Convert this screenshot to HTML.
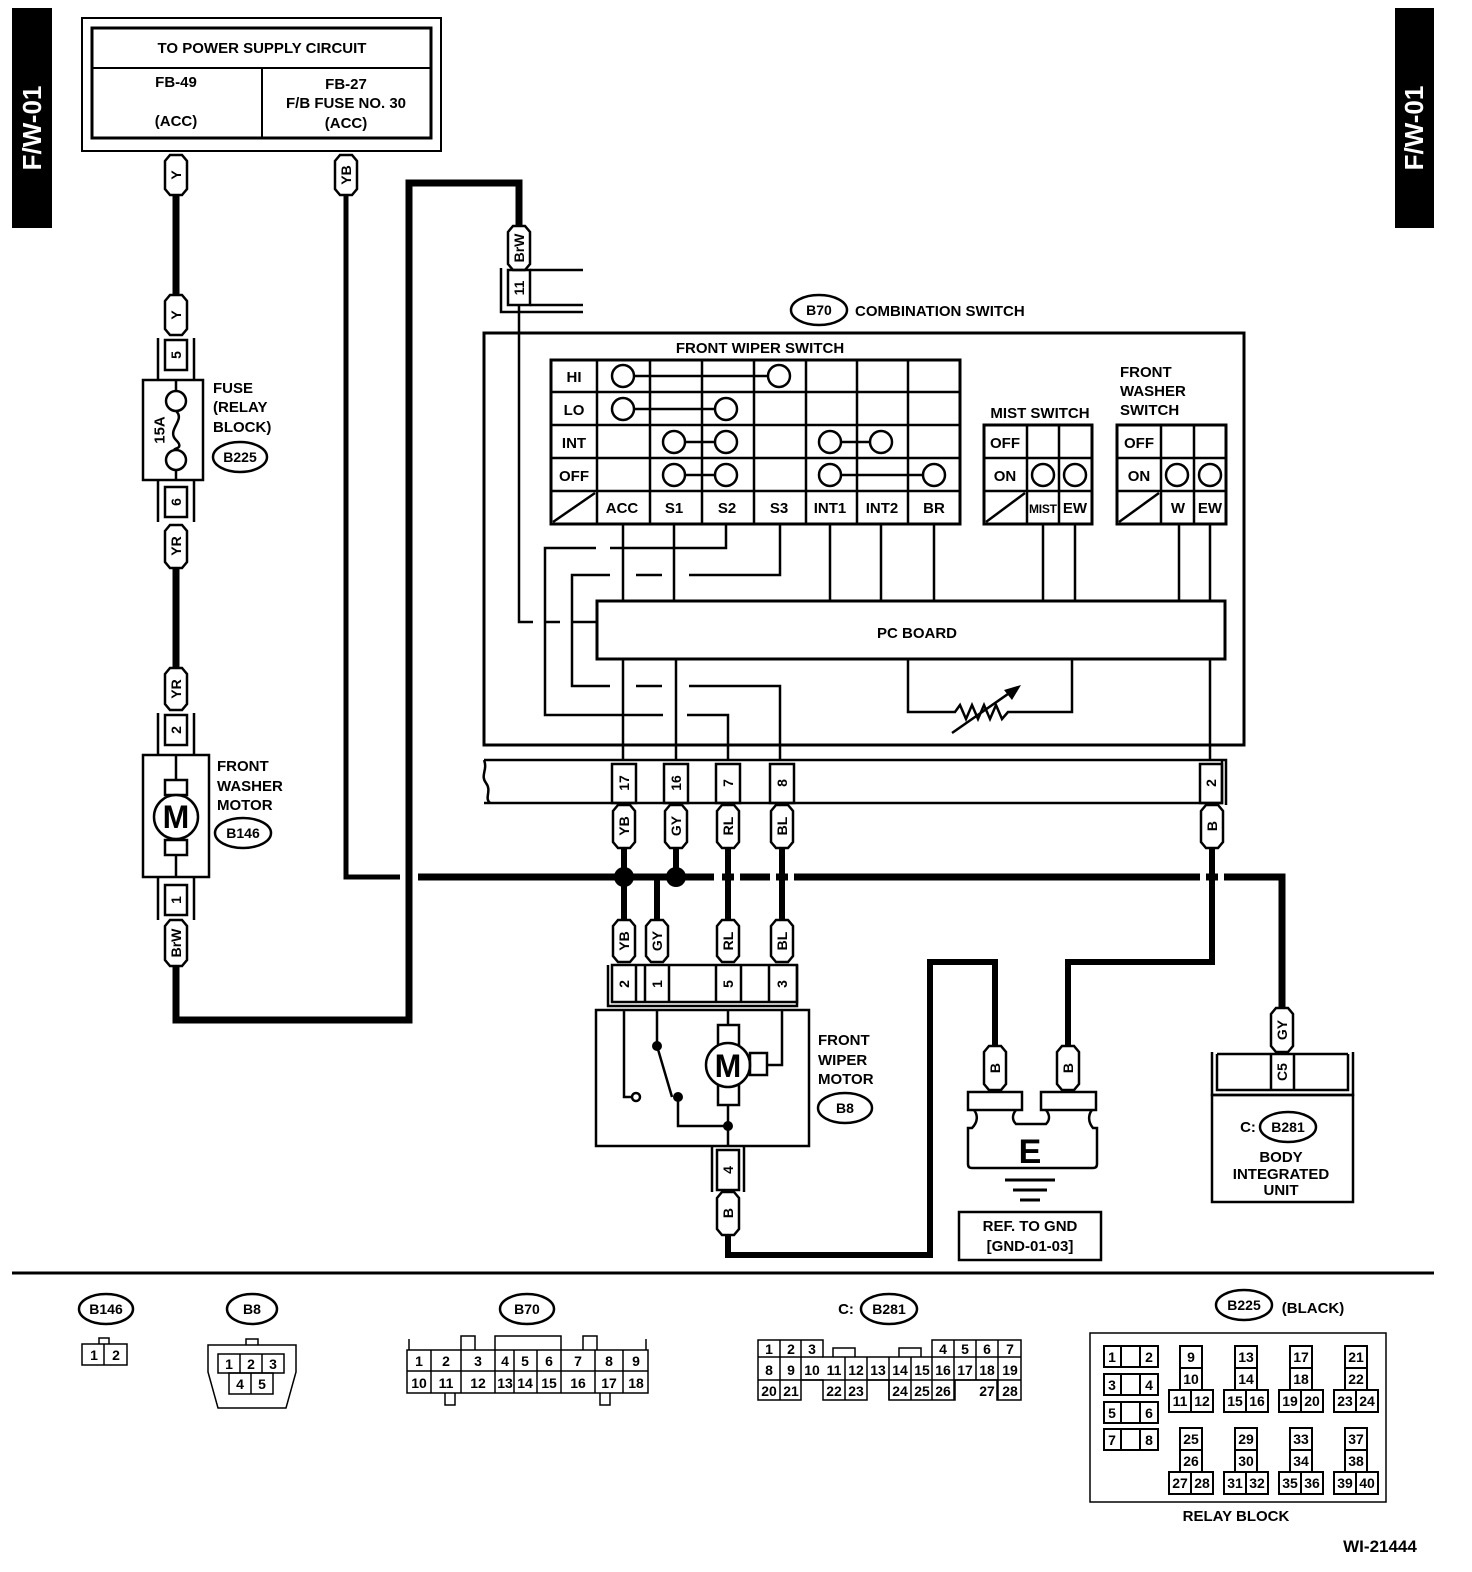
<!DOCTYPE html>
<html><head><meta charset="utf-8"><style>
html,body{margin:0;padding:0;background:#fff;}
svg{display:block;}
text{font-family:"Liberation Sans",Arial,sans-serif;font-weight:bold;fill:#000;}
</style></head><body>
<svg width="1472" height="1572" viewBox="0 0 1472 1572" xmlns="http://www.w3.org/2000/svg">
<rect width="1472" height="1572" fill="#fff"/>
<!-- side tabs -->
<rect x="12" y="8" width="40" height="220" fill="#000"/>
<text x="32" y="128" font-size="26" fill="#fff" style="fill:#fff" text-anchor="middle" dominant-baseline="central" transform="rotate(-90 32 128)">F/W-01</text>
<rect x="1395" y="8" width="39" height="220" fill="#000"/>
<text x="1414" y="128" font-size="26" style="fill:#fff" text-anchor="middle" dominant-baseline="central" transform="rotate(-90 1414 128)">F/W-01</text>

<g fill="none" stroke="#000">
<!-- top box -->
<rect x="82" y="18" width="359" height="133" stroke-width="2"/>
<rect x="92" y="28" width="339" height="110" stroke-width="3"/>
<line x1="92" y1="68" x2="431" y2="68" stroke-width="2"/>
<line x1="262" y1="68" x2="262" y2="138" stroke-width="2"/>

<!-- thick wires -->
<path d="M176 195V295" stroke-width="7"/>
<path d="M176 568V668" stroke-width="7"/>
<path d="M176 966V1020H409V183H519V226" stroke-width="7"/>
<path d="M346 195V877H400" stroke-width="5"/>
<path d="M418 877H1282V1008" stroke-width="7"/>
<path d="M624 848V920M728 848V920M782 848V920" stroke-width="6"/>
<path d="M676 848V877M657 920V877H676" stroke-width="6"/>
<path d="M1212 848V962H1068V1046" stroke-width="6"/>
<path d="M728 1235V1255H930V962H995V1046" stroke-width="6"/>
</g>
<!-- gaps on bus -->
<rect x="714" y="870" width="8" height="14" fill="#fff"/>
<rect x="734" y="870" width="6" height="14" fill="#fff"/>
<rect x="770" y="870" width="6" height="14" fill="#fff"/>
<rect x="788" y="870" width="6" height="14" fill="#fff"/>
<rect x="1200" y="870" width="6" height="14" fill="#fff"/>
<rect x="1218" y="870" width="6" height="14" fill="#fff"/>
<path d="M728 848V920M782 848V920M1212 848V962" stroke="#000" stroke-width="6" fill="none"/>
<circle cx="624" cy="877" r="10"/>
<circle cx="676" cy="877" r="10"/>

<g font-size="15">
<text x="262" y="53" text-anchor="middle">TO POWER SUPPLY CIRCUIT</text>
<text x="176" y="87" text-anchor="middle">FB-49</text>
<text x="176" y="126" text-anchor="middle">(ACC)</text>
<text x="346" y="89" text-anchor="middle">FB-27</text>
<text x="346" y="108" text-anchor="middle">F/B FUSE NO. 30</text>
<text x="346" y="128" text-anchor="middle">(ACC)</text>
</g>

<!-- wire labels -->
<g stroke="#000" stroke-width="2.5" fill="#fff">
<path d="M165 161L170 155H182L187 161V189L182 195H170L165 189Z"/>
<path d="M335 161L340 155H352L357 161V189L352 195H340L335 189Z"/>
<path d="M165 301L170 295H182L187 301V329L182 335H170L165 329Z"/>
<path d="M165 531L170 525H182L187 531V562L182 568H170L165 562Z"/>
<path d="M165 674L170 668H182L187 674V704L182 710H170L165 704Z"/>
<path d="M165 926L170 920H182L187 926V960L182 966H170L165 960Z"/>
<path d="M508 232L513 226H525L530 232V264L525 270H513L508 264Z"/>
<path d="M613 811L618 805H630L635 811V842L630 848H618L613 842Z"/>
<path d="M665 811L670 805H682L687 811V842L682 848H670L665 842Z"/>
<path d="M717 811L722 805H734L739 811V842L734 848H722L717 842Z"/>
<path d="M771 811L776 805H788L793 811V842L788 848H776L771 842Z"/>
<path d="M1201 811L1206 805H1218L1223 811V842L1218 848H1206L1201 842Z"/>
<path d="M613 926L618 920H630L635 926V956L630 962H618L613 956Z"/>
<path d="M646 926L651 920H663L668 926V956L663 962H651L646 956Z"/>
<path d="M717 926L722 920H734L739 926V956L734 962H722L717 956Z"/>
<path d="M771 926L776 920H788L793 926V956L788 962H776L771 956Z"/>
<path d="M717 1198L722 1192H734L739 1198V1229L734 1235H722L717 1229Z"/>
<path d="M984 1052L989 1046H1001L1006 1052V1084L1001 1090H989L984 1084Z"/>
<path d="M1057 1052L1062 1046H1074L1079 1052V1084L1074 1090H1062L1057 1084Z"/>
<path d="M1271 1014L1276 1008H1288L1293 1014V1046L1288 1052H1276L1271 1046Z"/>
</g>
<g font-size="14" text-anchor="middle" dominant-baseline="central">
<text x="176" y="175" transform="rotate(-90 176 175)">Y</text>
<text x="346" y="175" transform="rotate(-90 346 175)">YB</text>
<text x="176" y="315" transform="rotate(-90 176 315)">Y</text>
<text x="176" y="546" transform="rotate(-90 176 546)">YR</text>
<text x="176" y="689" transform="rotate(-90 176 689)">YR</text>
<text x="176" y="943" transform="rotate(-90 176 943)">BrW</text>
<text x="519" y="248" transform="rotate(-90 519 248)">BrW</text>
<text x="624" y="826" transform="rotate(-90 624 826)">YB</text>
<text x="676" y="826" transform="rotate(-90 676 826)">GY</text>
<text x="728" y="826" transform="rotate(-90 728 826)">RL</text>
<text x="782" y="826" transform="rotate(-90 782 826)">BL</text>
<text x="1212" y="826" transform="rotate(-90 1212 826)">B</text>
<text x="624" y="941" transform="rotate(-90 624 941)">YB</text>
<text x="657" y="941" transform="rotate(-90 657 941)">GY</text>
<text x="728" y="941" transform="rotate(-90 728 941)">RL</text>
<text x="782" y="941" transform="rotate(-90 782 941)">BL</text>
<text x="728" y="1213" transform="rotate(-90 728 1213)">B</text>
<text x="995" y="1068" transform="rotate(-90 995 1068)">B</text>
<text x="1068" y="1068" transform="rotate(-90 1068 1068)">B</text>
<text x="1282" y="1030" transform="rotate(-90 1282 1030)">GY</text>
</g>

<!-- left connectors & fuse & washer motor -->
<g fill="none" stroke="#000" stroke-width="2.5">
<rect x="165" y="340" width="22" height="30"/><path d="M158 338V380M194 338V380"/>
<rect x="143" y="380" width="60" height="100"/>
<path d="M176 380V391M176 470V480"/>
<circle cx="176" cy="401" r="10"/><circle cx="176" cy="460" r="10"/>
<path d="M176 411C186 420 166 430 176 440S170 448 176 450"/>
<rect x="165" y="487" width="22" height="30"/><path d="M158 480V522M194 480V522"/>
<rect x="165" y="715" width="22" height="30"/><path d="M158 713V755M194 713V755"/>
<rect x="143" y="755" width="66" height="122"/>
<path d="M176 755V780M176 855V877"/>
<rect x="165" y="780" width="22" height="15"/><rect x="165" y="840" width="22" height="15"/>
<circle cx="176" cy="817" r="22" fill="#fff"/>
<rect x="165" y="885" width="22" height="30"/><path d="M158 877V920M194 877V920"/>
<ellipse cx="240" cy="457" rx="27" ry="15"/>
<ellipse cx="243" cy="833" rx="28" ry="15"/>
</g>
<g font-size="14" text-anchor="middle" dominant-baseline="central">
<text x="176" y="355" transform="rotate(-90 176 355)">5</text>
<text x="176" y="502" transform="rotate(-90 176 502)">6</text>
<text x="176" y="730" transform="rotate(-90 176 730)">2</text>
<text x="176" y="900" transform="rotate(-90 176 900)">1</text>
<text x="160" y="430" font-size="15" transform="rotate(-90 160 430)">15A</text>
</g>
<text x="176" y="828" font-size="32" text-anchor="middle">M</text>
<g font-size="15">
<text x="213" y="393">FUSE</text>
<text x="213" y="412">(RELAY</text>
<text x="213" y="432">BLOCK)</text>
<text x="240" y="462" text-anchor="middle" font-size="14">B225</text>
<text x="217" y="771">FRONT</text>
<text x="217" y="791">WASHER</text>
<text x="217" y="810">MOTOR</text>
<text x="243" y="838" text-anchor="middle" font-size="14">B146</text>
</g>

<!-- B70 connector 11 (top) -->
<g fill="none" stroke="#000" stroke-width="2.5">
<rect x="508" y="270" width="22" height="35"/>
<path d="M530 270H583M530 305H583M501 268V312H583"/>
</g>
<text x="519" y="288" font-size="14" text-anchor="middle" dominant-baseline="central" transform="rotate(-90 519 288)">11</text>

<!-- combination switch -->
<ellipse cx="819" cy="310" rx="28" ry="15" fill="none" stroke="#000" stroke-width="2.5"/>
<text x="819" y="315" font-size="14" text-anchor="middle">B70</text>
<text x="855" y="316" font-size="15">COMBINATION SWITCH</text>
<rect x="484" y="333" width="760" height="412" fill="none" stroke="#000" stroke-width="3"/>
<text x="760" y="353" font-size="15" text-anchor="middle">FRONT WIPER SWITCH</text>
<g fill="none" stroke="#000" stroke-width="2.5">
<rect x="551" y="360" width="409" height="164" stroke-width="3"/>
<path d="M551 392H960M551 425H960M551 458H960M551 491H960"/>
<path d="M597 360V524M650 360V524M702 360V524M754 360V524M806 360V524M857 360V524M908 360V524"/>
<path d="M553 522L595 493"/>
<path d="M634 376H768M634 409H715M685 442H715M841 442H870M685 475H715M841 475H923" />
<circle cx="623" cy="376" r="11"/><circle cx="779" cy="376" r="11"/>
<circle cx="623" cy="409" r="11"/><circle cx="726" cy="409" r="11"/>
<circle cx="674" cy="442" r="11"/><circle cx="726" cy="442" r="11"/>
<circle cx="830" cy="442" r="11"/><circle cx="881" cy="442" r="11"/>
<circle cx="674" cy="475" r="11"/><circle cx="726" cy="475" r="11"/>
<circle cx="830" cy="475" r="11"/><circle cx="934" cy="475" r="11"/>
<!-- mist -->
<rect x="984" y="425" width="108" height="99" stroke-width="3"/>
<path d="M984 458H1092M984 491H1092M1027 425V524M1059 425V524M986 522L1025 493"/>
<circle cx="1043" cy="475" r="11"/><circle cx="1075" cy="475" r="11"/>
<!-- washer -->
<rect x="1117" y="425" width="109" height="99" stroke-width="3"/>
<path d="M1117 458H1226M1117 491H1226M1161 425V524M1194 425V524M1119 522L1159 493"/>
<circle cx="1177" cy="475" r="11"/><circle cx="1210" cy="475" r="11"/>
<!-- internal wiring -->
<path d="M623 524V601M674 524V601M830 524V601M881 524V601M934 524V601M1043 524V601M1075 524V601M1179 524V601M1210 524V601"/>
<path d="M726 524V548H610M596 548H545V715H610M596 715H663M687 715H728V760"/>
<path d="M780 524V575H689M662 575H636M610 575H572V686H610M636 686H662M689 686H780V760"/>
<path d="M519 305V622H533M545 622H560M572 622H597"/>
<path d="M623 659V760M676 659V760M1210 659V760"/>
<rect x="597" y="601" width="628" height="58" stroke-width="3"/>
<path d="M908 659V712H955L960 705L966 719L972 705L978 719L984 705L990 719L996 705L1002 719L1008 712H1072V659"/>
<path d="M952 733L1018 687"/>
</g>
<path d="M1021 685L1004 690L1012 700Z" fill="#000"/>
<text x="917" y="638" font-size="15" text-anchor="middle">PC BOARD</text>
<g font-size="15" text-anchor="middle">
<text x="574" y="382">HI</text><text x="574" y="415">LO</text><text x="574" y="448">INT</text><text x="574" y="481">OFF</text>
<text x="622" y="513">ACC</text><text x="674" y="513">S1</text><text x="727" y="513">S2</text><text x="779" y="513">S3</text>
<text x="830" y="513">INT1</text><text x="882" y="513">INT2</text><text x="934" y="513">BR</text>
<text x="1005" y="448">OFF</text><text x="1005" y="481">ON</text>
<text x="1043" y="513" font-size="12" textLength="28">MIST</text><text x="1075" y="513">EW</text>
<text x="1139" y="448">OFF</text><text x="1139" y="481">ON</text>
<text x="1178" y="513">W</text><text x="1210" y="513">EW</text>
<text x="1040" y="418">MIST SWITCH</text>
</g>
<g font-size="15"><text x="1120" y="377">FRONT</text><text x="1120" y="396">WASHER</text><text x="1120" y="415">SWITCH</text></g>

<!-- B70 connector strip -->
<g fill="none" stroke="#000" stroke-width="2.5">
<path d="M484 760H1226V805M484 803H1222V760M1226 760V805M1222 760"/>
<path d="M484 760C488 770 480 775 486 783S484 798 490 803" fill="#fff"/>
<rect x="612" y="764" width="24" height="39"/>
<rect x="664" y="764" width="24" height="39"/>
<rect x="716" y="764" width="24" height="39"/>
<rect x="770" y="764" width="24" height="39"/>
<rect x="1200" y="764" width="22" height="39"/>
</g>
<g font-size="14" text-anchor="middle" dominant-baseline="central">
<text x="624" y="783" transform="rotate(-90 624 783)">17</text>
<text x="676" y="783" transform="rotate(-90 676 783)">16</text>
<text x="728" y="783" transform="rotate(-90 728 783)">7</text>
<text x="782" y="783" transform="rotate(-90 782 783)">8</text>
<text x="1211" y="783" transform="rotate(-90 1211 783)">2</text>
</g>

<!-- wiper motor -->
<g fill="none" stroke="#000" stroke-width="2.5">
<path d="M608 965V1006H797V965"/>
<rect x="612" y="965" width="185" height="37"/>
<path d="M636 965V1002M669 965V1002M645 965V1002M716 965V1002M741 965V1002M769 965V1002"/>
<rect x="596" y="1010" width="213" height="136"/>
<path d="M624 1010V1097H632"/>
<circle cx="636" cy="1097" r="4"/>
<path d="M657 1010V1046L672 1097M678 1097V1126H728"/>
<path d="M728 1010V1025M728 1105V1146"/>
<rect x="718" y="1025" width="21" height="20"/><rect x="718" y="1085" width="21" height="20"/>
<circle cx="728" cy="1065" r="22" fill="#fff"/>
<path d="M782 1010V1065H767"/>
<rect x="750" y="1053" width="17" height="22"/>
<rect x="717" y="1150" width="22" height="40"/><path d="M712 1146V1192M744 1146V1192"/>
<ellipse cx="845" cy="1108" rx="27" ry="15"/>
</g>
<circle cx="657" cy="1046" r="5"/><circle cx="678" cy="1097" r="5"/><circle cx="728" cy="1126" r="5"/>
<text x="728" y="1077" font-size="32" text-anchor="middle">M</text>
<g font-size="14" text-anchor="middle" dominant-baseline="central">
<text x="624" y="984" transform="rotate(-90 624 984)">2</text>
<text x="657" y="984" transform="rotate(-90 657 984)">1</text>
<text x="728" y="984" transform="rotate(-90 728 984)">5</text>
<text x="782" y="984" transform="rotate(-90 782 984)">3</text>
<text x="728" y="1170" transform="rotate(-90 728 1170)">4</text>
</g>
<g font-size="15"><text x="818" y="1045">FRONT</text><text x="818" y="1065">WIPER</text><text x="818" y="1084">MOTOR</text>
<text x="845" y="1113" text-anchor="middle" font-size="14">B8</text></g>

<!-- ground -->
<g fill="none" stroke="#000" stroke-width="2.5">
<rect x="968" y="1092" width="54" height="18"/><rect x="1041" y="1092" width="55" height="18"/>
<path d="M974 1110C978 1115 978 1122 972 1128H968V1164Q968 1168 972 1168H1093Q1097 1168 1097 1164V1128H1093C1088 1122 1088 1115 1092 1110"/>
<path d="M1016 1110C1012 1115 1012 1120 1016 1124H1046C1050 1120 1050 1115 1046 1110"/>
<path d="M1005 1180H1055M1013 1190H1047M1020 1200H1040" stroke-width="3"/>
<rect x="959" y="1212" width="142" height="48"/>
</g>
<text x="1030" y="1163" font-size="34" text-anchor="middle">E</text>
<g font-size="15" text-anchor="middle"><text x="1030" y="1231">REF. TO GND</text><text x="1030" y="1251">[GND-01-03]</text></g>

<!-- B281 unit -->
<g fill="none" stroke="#000" stroke-width="2.5">
<path d="M1212 1052V1095H1353V1052M1217 1054V1090H1348V1054"/>
<path d="M1217 1054H1348M1271 1054V1090M1294 1054V1090"/>
<rect x="1212" y="1095" width="141" height="107"/>
<ellipse cx="1288" cy="1127" rx="28" ry="15"/>
</g>
<text x="1282" y="1072" font-size="14" text-anchor="middle" dominant-baseline="central" transform="rotate(-90 1282 1072)">C5</text>
<g font-size="15" text-anchor="middle">
<text x="1248" y="1132">C:</text><text x="1288" y="1132" font-size="14">B281</text>
<text x="1281" y="1162">BODY</text><text x="1281" y="1179">INTEGRATED</text><text x="1281" y="1195">UNIT</text>
</g>

<line x1="12" y1="1273" x2="1434" y2="1273" stroke="#000" stroke-width="3"/>

<!-- bottom connector views -->
<g fill="none" stroke="#000" stroke-width="2.5">
<ellipse cx="106" cy="1309" rx="27" ry="15"/>
<ellipse cx="252" cy="1309" rx="25" ry="15"/>
<ellipse cx="527" cy="1309" rx="27" ry="15"/>
<ellipse cx="889" cy="1309" rx="28" ry="15"/>
<ellipse cx="1244" cy="1305" rx="28" ry="15"/>
</g>
<g font-size="14" text-anchor="middle">
<text x="106" y="1314">B146</text><text x="252" y="1314">B8</text><text x="527" y="1314">B70</text>
<text x="846" y="1314" font-size="15">C:</text><text x="889" y="1314">B281</text>
<text x="1244" y="1310">B225</text><text x="1313" y="1313" font-size="15">(BLACK)</text>
</g>
<g fill="none" stroke="#000" stroke-width="1.5">
<!-- B146 -->
<rect x="82" y="1344" width="45" height="21"/><path d="M104 1344V1365M99 1344V1338H109V1344"/>
<!-- B8 -->
<path d="M208 1345H296V1372L286 1408H218L208 1372Z"/>
<path d="M246 1345V1339H258V1345"/>
<rect x="218" y="1354" width="66" height="19"/><path d="M240 1354V1373M262 1354V1373"/>
<rect x="229" y="1373" width="44" height="21"/><path d="M251 1373V1394"/>
<!-- B70 -->
<rect x="407" y="1350" width="241" height="43"/><path d="M407 1371H648"/>
<path d="M431 1350V1393M461 1350V1393M495 1350V1393M514 1350V1393M537 1350V1393M561 1350V1393M595 1350V1393M623 1350V1393"/>
<path d="M409 1350V1339M461 1350V1336H475V1350M495 1350V1336H561V1350M583 1350V1336H597V1350M646 1350V1339"/>
<path d="M445 1393V1405H455V1393M600 1393V1405H610V1393"/>
<!-- B281 -->
<path d="M758 1340H823V1357H932V1340H1021V1400H997V1380H955V1400H889V1380H867V1400H823V1380H801V1400H758Z"/>
<path d="M758 1357H823M932 1357H1021M758 1380H1021"/>
<path d="M780 1340V1400M801 1340V1380M845 1357V1400M867 1357V1380M889 1357V1400M911 1357V1400M932 1357V1400M954 1340V1400M976 1340V1380M998 1340V1400"/>
<path d="M833 1357V1348H855V1357M899 1357V1348H921V1357"/>
<!-- relay block -->
<rect x="1090" y="1333" width="296" height="169"/>
</g>
<g font-size="14" text-anchor="middle" font-weight="normal">
<text x="94" y="1360">1</text><text x="116" y="1360">2</text>
<text x="229" y="1369">1</text><text x="251" y="1369">2</text><text x="273" y="1369">3</text>
<text x="240" y="1389">4</text><text x="262" y="1389">5</text>
<text x="419" y="1366">1</text><text x="446" y="1366">2</text><text x="478" y="1366">3</text><text x="505" y="1366">4</text><text x="525" y="1366">5</text><text x="549" y="1366">6</text><text x="578" y="1366">7</text><text x="609" y="1366">8</text><text x="636" y="1366">9</text>
<text x="419" y="1388">10</text><text x="446" y="1388">11</text><text x="478" y="1388">12</text><text x="505" y="1388">13</text><text x="525" y="1388">14</text><text x="549" y="1388">15</text><text x="578" y="1388">16</text><text x="609" y="1388">17</text><text x="636" y="1388">18</text>
<text x="769" y="1354">1</text><text x="791" y="1354">2</text><text x="812" y="1354">3</text><text x="943" y="1354">4</text><text x="965" y="1354">5</text><text x="987" y="1354">6</text><text x="1010" y="1354">7</text>
<text x="769" y="1375">8</text><text x="791" y="1375">9</text><text x="812" y="1375">10</text><text x="834" y="1375">11</text><text x="856" y="1375">12</text><text x="878" y="1375">13</text><text x="900" y="1375">14</text><text x="922" y="1375">15</text><text x="943" y="1375">16</text><text x="965" y="1375">17</text><text x="987" y="1375">18</text><text x="1010" y="1375">19</text>
<text x="769" y="1396">20</text><text x="791" y="1396">21</text><text x="834" y="1396">22</text><text x="856" y="1396">23</text><text x="900" y="1396">24</text><text x="922" y="1396">25</text><text x="943" y="1396">26</text><text x="987" y="1396">27</text><text x="1010" y="1396">28</text>
</g>
<!-- relay block cells -->
<g fill="none" stroke="#000" stroke-width="2">
<rect x="1104" y="1346" width="54" height="21"/><path d="M1121 1346V1367M1140 1346V1367"/>
<rect x="1104" y="1374" width="54" height="21"/><path d="M1121 1374V1395M1140 1374V1395"/>
<rect x="1104" y="1402" width="54" height="21"/><path d="M1121 1402V1423M1140 1402V1423"/>
<rect x="1104" y="1429" width="54" height="21"/><path d="M1121 1429V1450M1140 1429V1450"/>
<path id="g1" d="M1180 1346H1202V1390H1180ZM1180 1368H1202M1169 1390H1213V1412H1169ZM1191 1390V1412"/>
<use href="#g1" x="55"/><use href="#g1" x="110"/><use href="#g1" x="165"/>
<use href="#g1" y="82"/><use href="#g1" x="55" y="82"/><use href="#g1" x="110" y="82"/><use href="#g1" x="165" y="82"/>
</g>
<g font-size="14" text-anchor="middle" font-weight="normal">
<text x="1112" y="1362">1</text><text x="1149" y="1362">2</text>
<text x="1112" y="1390">3</text><text x="1149" y="1390">4</text>
<text x="1112" y="1418">5</text><text x="1149" y="1418">6</text>
<text x="1112" y="1445">7</text><text x="1149" y="1445">8</text>
<text x="1191" y="1362">9</text><text x="1191" y="1384">10</text><text x="1180" y="1406">11</text><text x="1202" y="1406">12</text>
<text x="1246" y="1362">13</text><text x="1246" y="1384">14</text><text x="1235" y="1406">15</text><text x="1257" y="1406">16</text>
<text x="1301" y="1362">17</text><text x="1301" y="1384">18</text><text x="1290" y="1406">19</text><text x="1312" y="1406">20</text>
<text x="1356" y="1362">21</text><text x="1356" y="1384">22</text><text x="1345" y="1406">23</text><text x="1367" y="1406">24</text>
<text x="1191" y="1444">25</text><text x="1191" y="1466">26</text><text x="1180" y="1488">27</text><text x="1202" y="1488">28</text>
<text x="1246" y="1444">29</text><text x="1246" y="1466">30</text><text x="1235" y="1488">31</text><text x="1257" y="1488">32</text>
<text x="1301" y="1444">33</text><text x="1301" y="1466">34</text><text x="1290" y="1488">35</text><text x="1312" y="1488">36</text>
<text x="1356" y="1444">37</text><text x="1356" y="1466">38</text><text x="1345" y="1488">39</text><text x="1367" y="1488">40</text>
</g>
<text x="1236" y="1521" font-size="15" text-anchor="middle">RELAY BLOCK</text>
<text x="1380" y="1552" font-size="17" text-anchor="middle" font-weight="normal">WI-21444</text>
</svg>
</body></html>
